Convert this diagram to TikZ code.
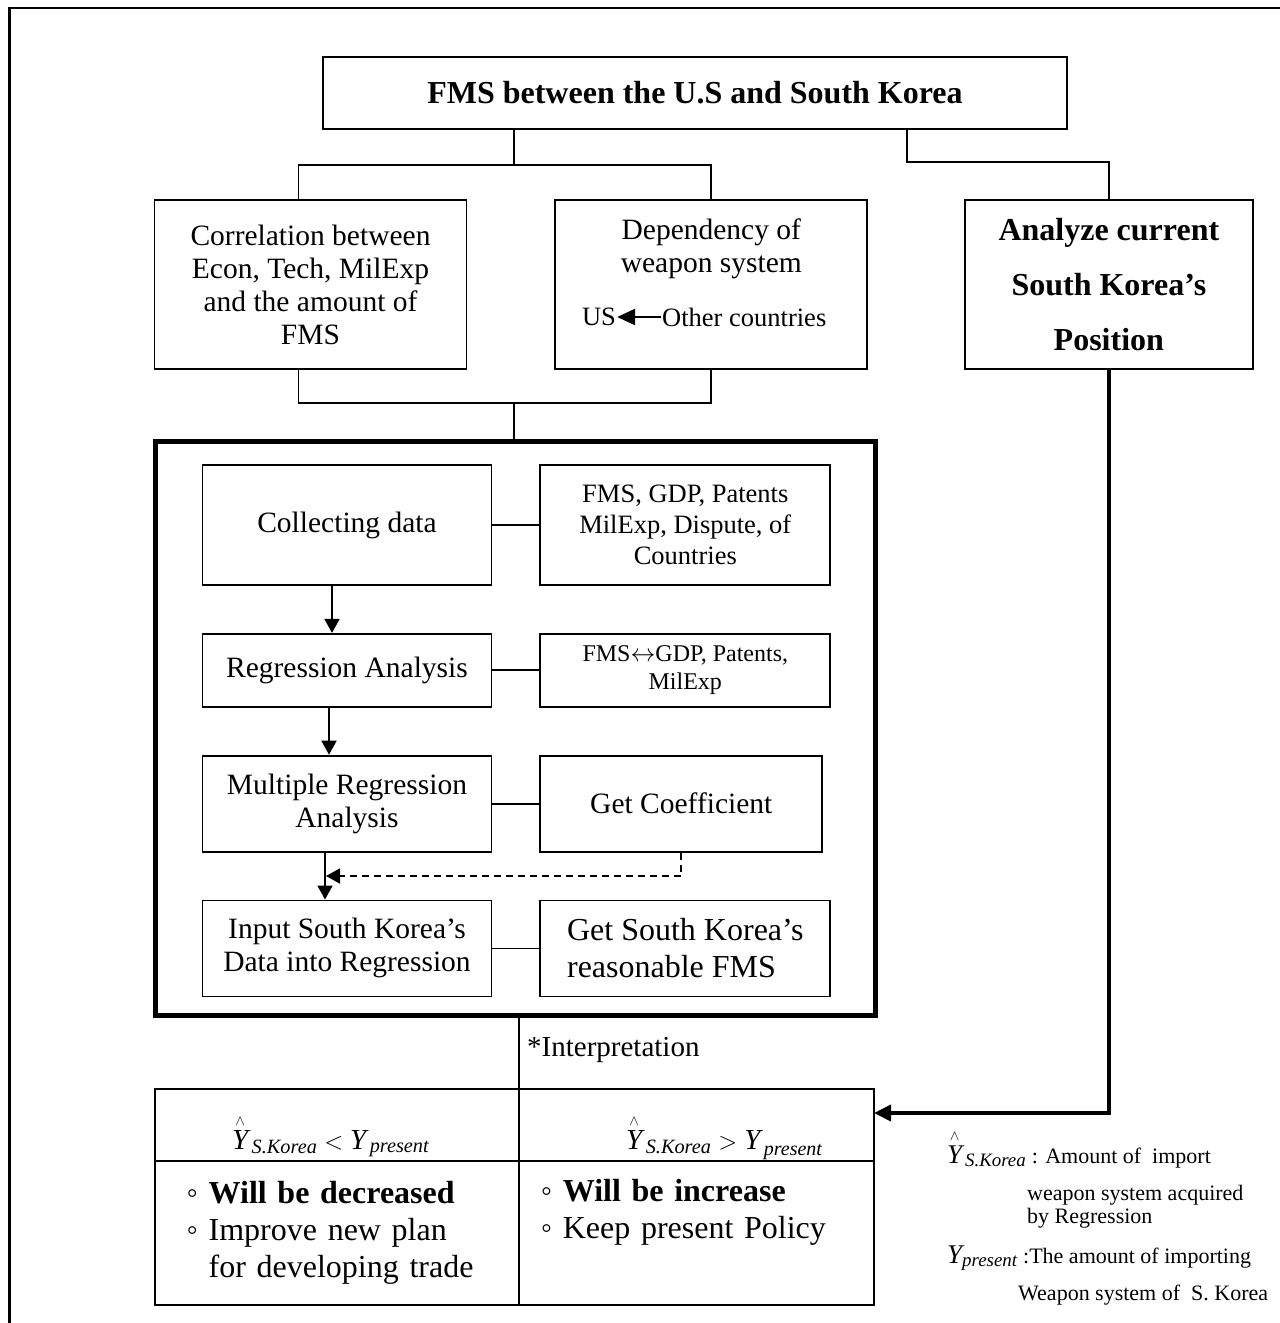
\documentclass[tikz,border=0pt]{standalone}
\usepackage{amsmath}
\usepackage{fontspec}
\setmainfont{Liberation Serif}
\usetikzlibrary{positioning,arrows.meta,calc}
\newcommand{\Yhat}{\overset{\scriptscriptstyle\wedge}{\textit{Y}}}
\newcommand{\fsz}[2]{\fontsize{#1}{#2}\selectfont}
\tikzset{
  box/.style={draw, line width=1.8pt, align=center, inner sep=3pt, font=\fsz{29.5}{33}},
  cell/.style={draw, line width=1.8pt, outer sep=0pt, inner sep=0pt, font=\fsz{32}{37}},
  head/.style={cell, minimum height=72pt, font=\fsz{29}{33}, text height=48pt, text depth=0pt},
  link/.style={line width=1.8pt},
  arr/.style={-{Triangle[length=14pt,width=15pt]}, line width=1.8pt},
  bigarr/.style={-{Triangle[length=17pt,width=16pt]}, line width=4pt},
  note/.style={anchor=base west, inner sep=0pt, font=\fsz{22}{24}},
}

\begin{document}
\begin{tikzpicture}[x=1pt, y=-1pt, node distance=47pt]
  \useasboundingbox (0,0) rectangle (1280,1323);
  \clip (0,0) rectangle (1280,1323);
  \draw[line width=2.5pt] (9.5,1340) -- (9.5,8) -- (1300,8);
  % top row
  \node[box, font=\fsz{32}{36}\bfseries, minimum width=744pt, minimum height=72pt] (fms) at (695,93) {FMS between the U.S and South Korea};
  \node[box, minimum width=312pt, minimum height=169pt] (corr) at (310.5,284.5) {Correlation between\\Econ, Tech, MilExp\\and the amount of\\FMS};
  \node[box, minimum width=312pt, minimum height=169pt, right=87pt of corr] (dep) {Dependency of\\weapon system\\[45pt]\mbox{}};
  \node[box, font=\fsz{32}{55}\bfseries, minimum width=287.5pt, minimum height=169pt, right=96pt of dep] (pos) {Analyze current\\South Korea’s\\Position};
  \node[font=\fsz{26.5}{30}, inner sep=1pt] (us) at (599,317) {US};
  \node[font=\fsz{26.5}{30}, inner sep=1pt, anchor=west] (others) at (661,317) {Other countries};
  \draw[-{Triangle[length=18pt,width=16pt]}, line width=2.5pt] (others) -- (us);
  \coordinate (split) at (514,165);
  \draw[link] (split |- fms.south) -- (split);
  \draw[link] ([xshift=-12pt]corr.north) |- (split) -| (dep.north);
  \draw[link] ([xshift=212pt]fms.south) |- ([yshift=37pt]pos.north) -- (pos.north);
  \coordinate (merge) at (514,403);
  \draw[link] ([xshift=-12pt]corr.south) |- (merge) -| (dep.south);
  % method block
  \node[draw, line width=5pt, minimum width=720pt, minimum height=574pt] (frame) at (515,728) {};
  \draw[link] (merge) -- (merge |- frame.north);
  \node[box, minimum width=289pt, minimum height=120pt] (collect) at (347,525) {Collecting data};
  \node[box, font=\fsz{26.5}{31}, minimum width=290pt, minimum height=120pt, right=of collect] (data) {FMS, GDP, Patents\\MilExp, Dispute, of\\Countries};
  \node[box, minimum width=289pt, minimum height=73pt, below=of collect] (regr) {Regression Analysis};
  \node[box, font=\fsz{24}{28}, minimum width=290pt, minimum height=73pt, right=of regr] (pairs) {FMS$\leftrightarrow$GDP, Patents,\\MilExp};
  \node[box, minimum width=289pt, minimum height=96pt, below=of regr] (multi) {Multiple Regression\\Analysis};
  \node[box, minimum width=282pt, minimum height=96pt, right=of multi] (coef) {Get Coefficient};
  \node[box, minimum width=289pt, minimum height=96pt, below=of multi] (input) {Input South Korea’s\\Data into Regression};
  \node[box, font=\fsz{32}{37}, align=left, minimum width=290pt, minimum height=96pt, right=of input] (result) {Get South Korea’s\\reasonable FMS};
  \foreach \a/\b in {collect/data, regr/pairs, multi/coef, input/result} \draw[link] (\a) -- (\b);
  \draw[arr] ([xshift=-15pt]collect.south) -- ([xshift=-15pt]regr.north);
  \draw[arr] ([xshift=-18pt]regr.south) -- ([xshift=-18pt]multi.north);
  \draw[arr] ([xshift=-22pt]multi.south) -- ([xshift=-22pt]input.north);
  \draw[arr, dash pattern=on 7pt off 5pt, shorten >=1pt] (coef.south) |- ($([xshift=-22pt]multi.south)!0.5!([xshift=-22pt]input.north)$);
  % interpretation table
  \node[head, minimum width=364pt] (hl) at (336.7,1125) {\hspace*{-12pt}$\Yhat_{\,\textit{S.Korea}} < \textit{Y}_{\,\textit{present}}$};
  \node[head, minimum width=355.3pt, right=0pt of hl] (hr) {\hspace*{56pt}$\Yhat_{\,\textit{S.Korea}} > \textit{Y}_{\,\raisebox{-3pt}{\fsz{20}{20}\itshape present}}$};
  \node[cell, minimum width=364pt, minimum height=144pt, below=0pt of hl, text width=300pt, align=left] (bl) {◦ \textbf{Will be decreased}\\◦ Improve new plan\\\hphantom{◦ }for developing trade};
  \node[cell, minimum width=355.3pt, minimum height=144pt, below=0pt of hr, text width=311pt, align=left] (br) {◦ \textbf{Will be increase}\\◦ Keep present Policy\\\strut};
  \draw[link] (frame.south -| hl.north east) -- (hl.north east);
  \node[anchor=west, font=\fsz{29}{33}, inner sep=0pt] (interp) at (527,1050) {*Interpretation};
  \draw[bigarr] (pos.south) |- ([yshift=12pt]hr.east);
  % legend
  \node[note] (ydef) at (947,1163) {{\fsz{27}{27}$\Yhat_{\,\textit{S.Korea}}$} : Amount of \ import};
  \node[note] (ydefb) at (1027,1200) {weapon system acquired};
  \node[note] (ydefc) at (1027,1223) {by Regression};
  \node[note] (pdef) at (947,1263) {{\fsz{27}{27}$\textit{Y}_{\textit{present}}$} :The amount of importing};
  \node[note] (pdefb) at (1018,1300) {Weapon system of \ S. Korea};
\end{tikzpicture}
\end{document}
